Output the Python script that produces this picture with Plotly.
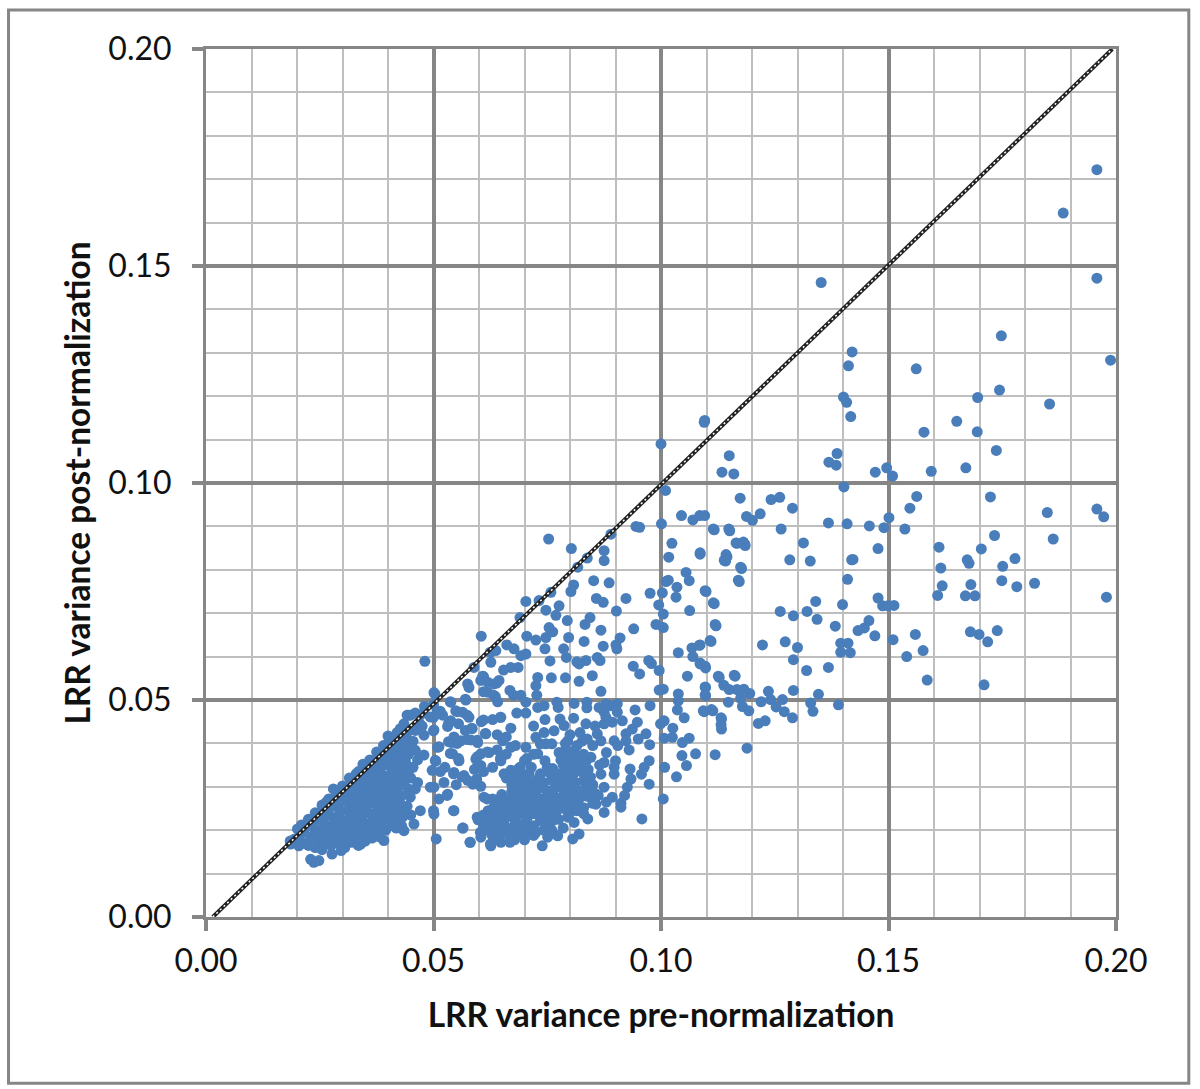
import plotly.graph_objects as go

# values as (pre, post) pairs, grouped by area of the chart
sparse_right = [
    (.1352,.1462),(.1958,.1472),(.1748,.1339),(.1420,.1302),(.1412,.1270),(.1988,.1283),(.1561,.1263),
    (.1744,.1214),(.1696,.1197),(.1401,.1198),(.1408,.1186),(.1417,.1153),(.1854,.1182),(.1650,.1142),
    (.1578,.1117),(.1695,.1118),(.1096,.1144),(.1737,.1075),(.1670,.1035),(.1150,.1063),(.1134,.1025),
    (.1160,.1021),(.1387,.1068),(.1369,.1048),(.1385,.1041),(.1471,.1025),(.1496,.1035),(.1509,.1016),
    (.1594,.1027),(.1402,.0991),(.1174,.0965),(.1242,.0962),(.1261,.0967),(.1289,.0942),(.1188,.0923),
    (.1201,.0914),(.1218,.0929),(.1096,.0925),(.1115,.0894),(.1149,.0894),(.1264,.0894),(.1368,.0908),
    (.1409,.0906),(.1458,.0901),(.1490,.0897),(.1501,.0920),(.1536,.0894),(.1562,.0969),(.1547,.0942),
    (.1724,.0968),(.1849,.0932),(.1958,.0940),(.1973,.0922),(.1862,.0871),(.1733,.0879),(.1611,.0852),
    (.1704,.0848),(.1673,.0823),(.1677,.0815),(.1778,.0826),(.1751,.0808),(.1615,.0804),(.1749,.0775),
    (.1782,.0761),(.1821,.0769),(.1681,.0766),(.1618,.0763),(.1608,.0741),(.1669,.0740),(.1690,.0740),
    (.1979,.0737),(.1477,.0735),(.1487,.0717),(.1512,.0718),(.1499,.0717),(.1399,.0720),(.1410,.0778),
    (.1419,.0823),(.1422,.0824),(.1477,.0849),(.1328,.0820),(.1283,.0823),(.1313,.0862),(.1165,.0862),
    (.1181,.0864),(.1185,.0856),(.1143,.0835),(.1139,.0822),(.1175,.0806),(.1170,.0776),(.1086,.0839),
    (.1097,.0752),(.1115,.0724),(.1119,.0674),(.1108,.0637),(.1086,.0627),(.1223,.0627),(.1273,.0634),
    (.1300,.0621),(.1291,.0593),(.1320,.0568),(.1368,.0575),(.1262,.0704),(.1291,.0694),(.1321,.0704),
    (.1340,.0727),(.1343,.0686),(.1383,.0670),(.1457,.0683),(.1447,.0666),(.1433,.0660),(.1470,.0648),
    (.1510,.0639),(.1559,.0651),(.1576,.0614),(.1540,.0600),(.1585,.0546),(.1710,.0535),(.1680,.0657),
    (.1699,.0651),(.1718,.0634),(.1739,.0660),(.1395,.0631),(.1411,.0631),(.1395,.0610),(.1416,.0609),
    (.1291,.0522),(.1346,.0513),(.1390,.0489),(.1329,.0493),(.1334,.0474),(.1236,.0520),(.1267,.0501),
    (.1220,.0496),(.1241,.0501),(.1253,.0484),(.1271,.0473),(.1289,.0459),(.1229,.0452),(.1214,.0446),
    (.1193,.0475),(.1179,.0485),(.1175,.0504),(.1195,.0515),(.1182,.0525),(.1167,.0524),(.1148,.0495),
    (.1150,.0524),(.1138,.0534),(.1161,.0557),(.1126,.0555),(.1097,.0578),(.1086,.0585),(.1097,.0530),
    (.1097,.0512),(.1111,.0478),(.1093,.0475),(.1132,.0459),(.1132,.0443),(.1884,.1622),(.1958,.1722),
]

upper_middle = [
    (.0753,.0871),(.0803,.0849),(.0953,.0898),(.1001,.0906),(.1117,.0892),(.1151,.0890),(.1024,.0861),
    (.1167,.0861),(.1184,.0859),(.1017,.0829),(.1086,.0836),(.1145,.0830),(.1142,.0820),(.1177,.0803),
    (.1172,.0773),(.1055,.0794),(.1062,.0775),(.1016,.0776),(.1011,.0773),(.1035,.0760),(.0976,.0746),
    (.1003,.0747),(.1033,.0737),(.1099,.0750),(.1117,.0722),(.1063,.0706),(.0995,.0719),(.1005,.0698),
    (.1121,.0671),(.0989,.0674),(.1005,.0667),(.1110,.0635),(.1084,.0626),(.1068,.0620),(.1070,.0600),
    (.1038,.0609),(.1086,.0583),(.1098,.0574),(.1058,.0555),(.1128,.0552),(.1163,.0555),(.1098,.0529),
    (.1098,.0510),(.1038,.0514),(.1038,.0498),(.0996,.0523),(.1005,.0525),(.0923,.0734),(.0902,.0705),
    (.0940,.0664),(.0852,.0775),(.0886,.0770),(.0858,.0734),(.0873,.0725),(.0808,.0765),(.0802,.0750),
    (.0875,.0821),(.0875,.0844),(.0890,.0882),(.0838,.0827),(.0817,.0806),(.0758,.0748),(.0703,.0727),
    (.0732,.0729),(.0747,.0707),(.0776,.0717),(.0769,.0695),(.0690,.0690),(.0844,.0690),(.0794,.0683),
    (.0833,.0674),(.0868,.0661),(.0754,.0667),(.0762,.0657),(.0797,.0644),(.0705,.0647),(.0725,.0638),
    (.0747,.0644),(.0745,.0618),(.0831,.0635),(.0910,.0643),(.0901,.0627),(.0903,.0618),(.0873,.0624),
    (.0786,.0618),(.0792,.0598),(.0860,.0598),(.0866,.0591),(.0756,.0590),(.0815,.0588),(.0835,.0591),
    (.0820,.0583),(.0939,.0578),(.0973,.0591),(.0979,.0584),(.0953,.0560),(.0996,.0568),(.0661,.0627),
    (.0677,.0618),(.0692,.0602),(.0703,.0606),(.0625,.0610),(.0626,.0587),(.0637,.0614),(.0605,.0647),
    (.0589,.0575),(.0654,.0569),(.0670,.0575),(.0686,.0575),(.0608,.0555),(.0604,.0545),(.0619,.0541),
    (.0644,.0545),(.0633,.0537),(.0575,.0537),(.0578,.0529),(.0503,.0514),(.0619,.0518),(.0632,.0511),
    (.0641,.0496),(.0668,.0522),(.0676,.0511),(.0692,.0511),(.0703,.0495),(.0729,.0552),(.0725,.0533),
    (.0727,.0511),(.0729,.0483),(.0743,.0487),(.0759,.0551),(.0790,.0551),(.0820,.0543),(.0849,.0556),
    (.0868,.0520),(.0771,.0495),(.0774,.0483),(.0809,.0492),(.0837,.0495),(.0837,.0482),(.0571,.0500),
    (.0538,.0495),(.0515,.0474),(.1000,.1090),(.1010,.0983),(.1095,.1140),(.1045,.0925),(.1070,.0915),
    (.1085,.0925),(.0945,.0900),
]

lower_middle = [
    (.0976,.0487),(.0943,.0477),(.0879,.0491),(.0864,.0483),(.0890,.0487),(.0904,.0491),(.0875,.0472),
    (.0904,.0472),(.0879,.0460),(.0915,.0452),(.0893,.0449),(.0875,.0445),(.1036,.0477),(.1095,.0473),
    (.1114,.0475),(.1051,.0459),(.1007,.0452),(.0999,.0445),(.1026,.0435),(.1133,.0456),(.1133,.0433),
    (.0948,.0449),(.0937,.0433),(.0923,.0422),(.0967,.0422),(.1007,.0412),(.1025,.0414),(.1047,.0402),
    (.1062,.0412),(.0975,.0397),(.1046,.0372),(.1076,.0376),(.1119,.0374),(.1189,.0389),(.1056,.0349),
    (.1034,.0323),(.1008,.0345),(.1005,.0272),(.0974,.0360),(.0963,.0345),(.0957,.0329),(.0932,.0341),
    (.0934,.0318),(.0974,.0306),(.0926,.0299),(.0958,.0226),(.0920,.0280),(.0912,.0262),
    (.0540,.0402),(.0560,.0406),(.0582,.0408),(.0597,.0402),(.0604,.0376),(.0622,.0379),(.0652,.0406),
    (.0670,.0391),(.0703,.0391),(.0725,.0414),(.0743,.0425),(.0765,.0429),(.0787,.0441),(.0808,.0458),
    (.0778,.0456),(.0703,.0470),(.0683,.0470),(.0648,.0460),(.0630,.0455),(.0605,.0450),(.0670,.0435),
    (.0615,.0422),(.0584,.0435),(.0578,.0460),(.0564,.0472),(.0549,.0475),(.0538,.0452),(.0531,.0439),
    (.0500,.0460),(.0500,.0429),(.0509,.0391),(.0542,.0376),(.0556,.0360),(.0505,.0359),(.0593,.0364),
    (.0648,.0360),(.0630,.0345),(.0604,.0349),(.0545,.0333),(.0567,.0326),(.0586,.0306),(.0604,.0301),
    (.0523,.0310),(.0501,.0299),(.0531,.0283),(.0512,.0272),(.0501,.0237),(.0545,.0245),(.0565,.0205),
    (.0581,.0172),(.0506,.0180),(.0611,.0276),(.0630,.0272),(.0747,.0399),(.0735,.0399),(.0760,.0399),
    (.0795,.0406),(.0827,.0405),(.0860,.0422),(.0868,.0406),(.0897,.0406),(.0923,.0406),(.0880,.0379),
    (.0846,.0368),(.0809,.0383),(.0776,.0379),(.0729,.0376),(.0745,.0360),(.0875,.0356),(.0897,.0345),
    (.0897,.0329),(.0868,.0329),(.0875,.0299),(.0893,.0276),(.0912,.0253),(.0875,.0241),(.0857,.0260),
    (.0839,.0226),(.0809,.0218),(.0795,.0230),(.0820,.0191),(.0806,.0180),(.0773,.0187),(.0751,.0184),
    (.0739,.0164),(.0626,.0164),(.0648,.0172),(.0604,.0184),(.0703,.0191),(.0762,.0222),
    (.0520,.0465),(.0555,.0445),(.0570,.0430),(.0545,.0415),(.0525,.0345),(.0515,.0335),(.0550,.0305),
    (.0575,.0315),(.0595,.0318),(.0640,.0420),(.0660,.0415),(.0720,.0440),(.0745,.0455),(.0700,.0360),
    (.0685,.0340),(.0710,.0330),(.0720,.0375),(.0660,.0375),(.0640,.0385),(.0680,.0395),(.0835,.0445),
    (.0855,.0440),(.0822,.0425),(.0838,.0410),(.0800,.0420),(.0790,.0400),(.0815,.0395),(.0850,.0395),
    (.0905,.0395),(.0930,.0385),(.0950,.0410),(.0900,.0360),(.0865,.0350),(.0610,.0335),(.0590,.0340),
]

dense_band = [
    (.0612,.0225),(.0625,.0212),(.0640,.0225),(.0655,.0215),(.0672,.0205),(.0690,.0212),(.0705,.0225),
    (.0720,.0210),(.0735,.0222),(.0750,.0215),(.0618,.0200),(.0635,.0192),(.0652,.0195),(.0668,.0188),
    (.0685,.0192),(.0610,.0235),(.0630,.0238),(.0650,.0240),(.0668,.0232),(.0685,.0235),(.0700,.0242),
    (.0718,.0238),(.0735,.0240),(.0752,.0235),(.0770,.0242),(.0788,.0250),(.0640,.0255),(.0660,.0252),
    (.0678,.0255),(.0695,.0258),(.0712,.0255),(.0728,.0258),(.0745,.0252),(.0762,.0258),(.0780,.0265),
    (.0798,.0262),(.0815,.0245),(.0830,.0252),(.0668,.0272),(.0685,.0275),(.0702,.0272),(.0718,.0275),
    (.0735,.0272),(.0750,.0278),(.0768,.0275),(.0785,.0280),(.0802,.0278),(.0820,.0272),(.0838,.0278),
    (.0855,.0285),(.0680,.0290),(.0698,.0292),(.0715,.0290),(.0730,.0295),(.0748,.0292),(.0765,.0295),
    (.0782,.0298),(.0800,.0295),(.0818,.0292),(.0835,.0298),(.0850,.0305),(.0672,.0305),(.0690,.0310),
    (.0708,.0308),(.0725,.0312),(.0742,.0310),(.0760,.0315),(.0778,.0312),(.0795,.0315),(.0812,.0310),
    (.0830,.0315),(.0845,.0322),(.0660,.0320),(.0680,.0325),(.0700,.0328),(.0735,.0330),(.0755,.0332),
    (.0772,.0330),(.0790,.0332),(.0808,.0330),(.0825,.0335),(.0840,.0340),(.0690,.0345),(.0715,.0345),
    (.0750,.0345),(.0785,.0350),(.0802,.0348),(.0820,.0352),(.0835,.0358),(.0795,.0365),(.0815,.0368),
    (.0830,.0375),(.0790,.0385),(.0705,.0365),(.0670,.0338),(.0655,.0330),(.0598,.0224),(.0610,.0208),
    (.0640,.0178),(.0668,.0172),(.0700,.0178),(.0720,.0188),(.0760,.0200),(.0785,.0205),(.0800,.0240),
    (.0850,.0262),(.0862,.0280),(.0880,.0265),
    (.0620,.0245),(.0650,.0205),(.0680,.0220),(.0712,.0200),(.0742,.0200),(.0660,.0265),(.0690,.0245),
    (.0725,.0248),(.0760,.0245),(.0775,.0255),(.0695,.0282),(.0725,.0282),(.0758,.0285),(.0792,.0288),
    (.0828,.0285),(.0845,.0295),(.0705,.0300),(.0738,.0302),(.0772,.0305),(.0805,.0302),(.0840,.0308),
    (.0700,.0318),(.0732,.0320),(.0768,.0322),(.0800,.0322),(.0835,.0325),(.0762,.0342),(.0812,.0340),
    (.0780,.0362),(.0825,.0362),(.0690,.0265),(.0750,.0265),(.0810,.0262),(.0775,.0225),(.0830,.0238),
    (.0645,.0240),(.0715,.0265),(.0785,.0270),(.0640,.0205),(.0695,.0200),(.0730,.0235),(.0655,.0228),
    (.0628,.0190),(.0662,.0198),(.0678,.0178),(.0632,.0252),(.0648,.0268),(.0675,.0242),(.0705,.0212),
    (.0725,.0195),(.0650,.0282),(.0672,.0290),
]

lower_left = [
    (.0481,.0589),(.0501,.0517),(.0537,.0496),(.0570,.0502),(.0508,.0475),(.0442,.0465),(.0471,.0465),
    (.0493,.0461),(.0427,.0434),(.0449,.0431),(.0400,.0417),(.0479,.0419),(.0501,.0431),(.0413,.0392),
    (.0442,.0396),(.0460,.0384),(.0479,.0373),(.0512,.0392),(.0504,.0361),(.0533,.0404),(.0552,.0400),
    (.0574,.0409),(.0596,.0407),(.0610,.0554),(.0639,.0539),(.0610,.0519),(.0636,.0508),(.0552,.0473),
    (.0574,.0465),(.0533,.0446),(.0585,.0434),(.0610,.0454),(.0647,.0460),(.0614,.0423),(.0537,.0377),
    (.0555,.0365),(.0596,.0369),(.0618,.0380),(.0647,.0365),(.0596,.0346),(.0544,.0330),(.0563,.0323),
    (.0596,.0307),(.0618,.0272),(.0640,.0269),(.0497,.0338),(.0493,.0299),(.0530,.0280),(.0500,.0245),
    (.0544,.0245),(.0564,.0205),(.0580,.0172),(.0596,.0230),(.0625,.0230),(.0625,.0168),(.0603,.0195),
    (.0647,.0176),(.0449,.0276),(.0427,.0261),(.0457,.0214),(.0435,.0199),(.0471,.0245),(.0420,.0238),
    (.0391,.0176),(.0340,.0168),(.0297,.0153),(.0277,.0145),(.0230,.0133),(.0248,.0130),(.0237,.0126),
    (.0201,.0203),(.0186,.0168),(.0204,.0164),
]

dense_corner = [
    (.0185,.0175),(.0195,.0180),(.0205,.0178),(.0215,.0170),(.0225,.0165),(.0240,.0160),(.0255,.0155),
    (.0215,.0195),(.0230,.0185),(.0245,.0178),(.0260,.0170),(.0275,.0165),(.0290,.0170),(.0305,.0160),
    (.0320,.0172),(.0335,.0165),(.0350,.0175),(.0365,.0182),(.0380,.0185),(.0230,.0210),(.0245,.0200),
    (.0260,.0192),(.0275,.0185),(.0290,.0190),(.0305,.0182),(.0320,.0190),(.0335,.0185),(.0350,.0195),
    (.0365,.0200),(.0380,.0205),(.0395,.0200),(.0410,.0210),(.0245,.0225),(.0260,.0215),(.0275,.0205),
    (.0290,.0210),(.0305,.0202),(.0320,.0210),(.0335,.0205),(.0350,.0215),(.0365,.0218),(.0380,.0225),
    (.0395,.0220),(.0410,.0228),(.0425,.0220),(.0255,.0245),(.0270,.0235),(.0285,.0228),(.0300,.0222),
    (.0315,.0228),(.0330,.0225),(.0345,.0235),(.0360,.0238),(.0375,.0242),(.0390,.0240),(.0405,.0248),
    (.0420,.0255),(.0435,.0240),(.0450,.0235),(.0265,.0265),(.0280,.0255),(.0295,.0245),(.0310,.0245),
    (.0325,.0248),(.0340,.0252),(.0355,.0258),(.0370,.0262),(.0385,.0258),(.0400,.0268),(.0415,.0275),
    (.0430,.0280),(.0285,.0278),(.0300,.0268),(.0315,.0262),(.0330,.0268),(.0345,.0272),(.0360,.0278),
    (.0375,.0282),(.0390,.0280),(.0405,.0290),(.0420,.0298),(.0435,.0305),(.0300,.0292),(.0315,.0285),
    (.0330,.0288),(.0345,.0292),(.0360,.0298),(.0375,.0302),(.0390,.0300),(.0405,.0310),(.0420,.0320),
    (.0435,.0328),(.0450,.0320),(.0465,.0310),(.0320,.0312),(.0335,.0308),(.0350,.0312),(.0365,.0318),
    (.0380,.0322),(.0395,.0325),(.0410,.0335),(.0425,.0345),(.0440,.0350),(.0455,.0345),(.0340,.0332),
    (.0355,.0330),(.0370,.0338),(.0385,.0345),(.0400,.0350),(.0415,.0360),(.0430,.0370),(.0445,.0375),
    (.0465,.0362),(.0360,.0350),(.0375,.0360),(.0390,.0368),(.0405,.0375),(.0420,.0385),(.0435,.0390),
    (.0455,.0405),(.0470,.0445),(.0475,.0440),(.0450,.0465),(.0395,.0385),(.0410,.0410),(.0425,.0405),
    (.0440,.0420),(.0460,.0430),(.0280,.0295),(.0265,.0262),(.0335,.0335),(.0345,.0352),
    (.0210,.0212),(.0225,.0225),(.0240,.0240),(.0255,.0258),(.0270,.0272),(.0285,.0290),(.0300,.0302),
    (.0315,.0320),(.0330,.0330),(.0345,.0345),(.0360,.0362),(.0375,.0380),(.0390,.0395),(.0405,.0415),
    (.0420,.0425),(.0435,.0445),(.0445,.0465),(.0460,.0470),(.0480,.0485),(.0500,.0490),
    (.0252,.0180),(.0280,.0178),(.0310,.0182),(.0340,.0178),(.0372,.0190),(.0238,.0205),(.0268,.0200),
    (.0298,.0198),(.0328,.0198),(.0358,.0205),(.0388,.0212),(.0418,.0205),(.0430,.0210),(.0252,.0232),
    (.0282,.0218),(.0312,.0218),(.0342,.0222),(.0372,.0232),(.0402,.0235),(.0432,.0230),(.0262,.0252),
    (.0292,.0235),(.0322,.0238),(.0352,.0245),(.0382,.0250),(.0412,.0260),(.0442,.0255),(.0290,.0262),
    (.0322,.0258),(.0352,.0268),(.0382,.0270),(.0412,.0285),(.0445,.0295),(.0310,.0275),(.0338,.0282),
    (.0368,.0292),(.0398,.0295),(.0428,.0310),(.0460,.0295),(.0325,.0298),(.0355,.0305),(.0385,.0312),
    (.0415,.0325),(.0445,.0335),(.0348,.0322),(.0378,.0332),(.0408,.0345),(.0438,.0360),(.0365,.0345),
    (.0395,.0358),(.0425,.0378),(.0400,.0400),(.0430,.0415),(.0450,.0390),(.0415,.0395),
]

tick_vals = [0.00, 0.05, 0.10, 0.15, 0.20]
tick_text = ["0.00", "0.05", "0.10", "0.15", "0.20"]
diag_x = [0.0015, 0.1992]
diag_y = [0.0, 0.2]

points = sparse_right + upper_middle + lower_middle + dense_band + lower_left + dense_corner
pre_norm = [p[0] for p in points]
post_norm = [p[1] for p in points]

major = "#868686"
minor = "#BEBEBE"
font_name = "Lato"

fig = go.Figure()
fig.add_trace(go.Scatter(x=pre_norm, y=post_norm, mode="markers",
                         marker=dict(size=11, color="#4A7EBB", line=dict(width=0))))
fig.add_trace(go.Scatter(x=diag_x, y=diag_y, mode="lines", line=dict(color="#222222", width=4)))
fig.add_trace(go.Scatter(x=diag_x, y=diag_y, mode="lines", line=dict(color="#FFFFFF", width=1.5, dash="2px,3px")))

axis = dict(range=[0, 0.2], tickvals=tick_vals, ticktext=tick_text, ticks="outside", ticklen=11, tickwidth=3.5,
            tickcolor=major, showline=True, linecolor=major, linewidth=3, mirror=True, showgrid=True,
            gridcolor=major, gridwidth=3.5, zeroline=False, tickfont=dict(family=font_name, size=32, color="#111111"),
            minor=dict(dtick=0.01, tick0=0, showgrid=True, gridcolor=minor, gridwidth=2, ticks=""))
fig.update_xaxes(axis, ticklabelstandoff=3,
                 title=dict(text="<b>LRR variance pre-normalization</b>", standoff=26,
                            font=dict(family=font_name, size=33.5, color="#111111")))
fig.update_yaxes(axis, ticklabelstandoff=14,
                 title=dict(text="<b>LRR variance post-normalization</b>", standoff=8,
                            font=dict(family=font_name, size=33.5, color="#111111")))

# outer chart frame
fig.add_shape(type="rect", xref="paper", yref="paper", x0=-0.217, x1=1.08, y0=-0.1916, y1=1.045,
              line=dict(color=major, width=3))

fig.update_layout(width=1200, height=1089, showlegend=False, template="plotly_white",
                  paper_bgcolor="white", plot_bgcolor="white",
                  margin=dict(l=205.5, r=84, t=49, b=172, autoexpand=False))
fig.write_html("out.html", config={"displayModeBar": False}, post_script="document.body.style.margin='0';")
